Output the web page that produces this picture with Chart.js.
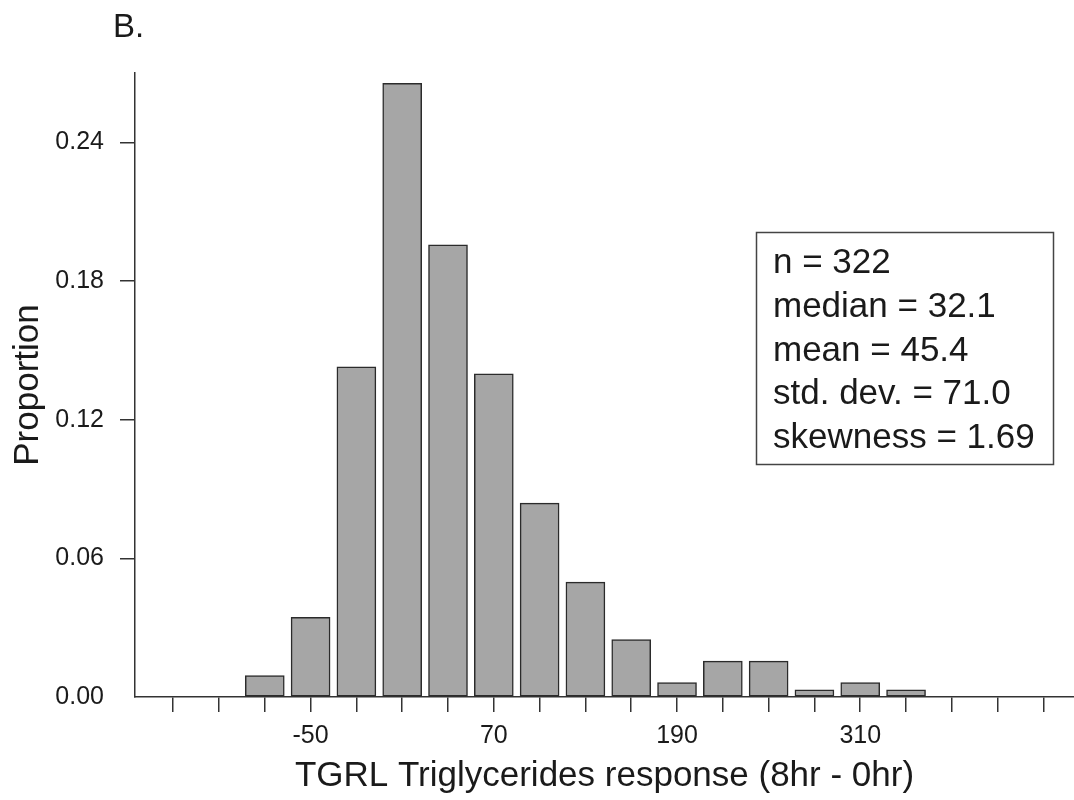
<!DOCTYPE html>
<html>
<head>
<meta charset="utf-8">
<script src="https://cdn.jsdelivr.net/npm/chart.js@4.4.0/dist/chart.umd.min.js"></script>
<style>
  html, body { margin: 0; padding: 0; background: #ffffff; }
  #c { display: block; }
</style>
</head>
<body>
<canvas id="c" width="1074" height="800"></canvas>
<script>
// ---- data ----
const binCenters = [-80, -50, -20, 10, 40, 70, 100, 130, 160, 190, 220, 250, 280, 310, 340];
const proportions = [0.0093, 0.0345, 0.1429, 0.2655, 0.1957, 0.1398, 0.0839, 0.0497, 0.0248, 0.0062, 0.0155, 0.0155, 0.0031, 0.0062, 0.0031];
const xTickValues = [-140, -110, -80, -50, -20, 10, 40, 70, 100, 130, 160, 190, 220, 250, 280, 310, 340, 370, 400, 430];
const xTickLabels = [-50, 70, 190, 310];
const yTickValues = [0, 0.06, 0.12, 0.18, 0.24];
const statsLines = ['n = 322', 'median = 32.1', 'mean = 45.4', 'std. dev. = 71.0', 'skewness = 1.69'];
const panelLabel = 'B.';
const xTitle = 'TGRL Triglycerides response (8hr - 0hr)';
const yTitle = 'Proportion';

const FONT = "'Liberation Sans', Arial, Helvetica, sans-serif";
const INK = '#1a1a1a';
const AXIS = '#333333';

const overlay = {
  id: 'overlay',
  afterDraw(chart) {
    const ctx = chart.ctx;
    ctx.save();
    // panel label
    ctx.fillStyle = INK;
    ctx.font = '33px ' + FONT;
    ctx.textAlign = 'left';
    ctx.textBaseline = 'alphabetic';
    ctx.fillText(panelLabel, 113, 37);
    // stats box
    ctx.strokeStyle = '#444';
    ctx.lineWidth = 1.5;
    ctx.strokeRect(756.5, 232.5, 297, 232);
    ctx.font = '35px ' + FONT;
    statsLines.forEach((t, i) => ctx.fillText(t, 773, 273 + i * 43.75));
    ctx.restore();
  }
};

new Chart(document.getElementById('c'), {
  type: 'bar',
  data: {
    datasets: [{
      data: binCenters.map((x, i) => ({ x: x, y: proportions[i] })),
      backgroundColor: '#a6a6a6',
      borderColor: '#2b2b2b',
      borderWidth: 1.5,
      borderSkipped: false,
      barThickness: 39
    }]
  },
  options: {
    responsive: false,
    animation: false,
    devicePixelRatio: 1,
    layout: { padding: { top: 73, left: 0, right: 0, bottom: 0 } },
    plugins: { legend: { display: false }, tooltip: { enabled: false }, title: { display: false } },
    scales: {
      x: {
        type: 'linear',
        offset: false,
        min: -165,
        max: 450,
        afterBuildTicks(scale) { scale.ticks = xTickValues.map(v => ({ value: v })); },
        afterFit(scale) { scale.height = 103; },
        ticks: {
          autoSkip: false,
          maxRotation: 0,
          padding: 9,
          color: INK,
          font: { family: FONT, size: 25 },
          callback: (v) => xTickLabels.includes(v) ? String(v) : ''
        },
        grid: { offset: false, drawOnChartArea: false, drawTicks: true, tickLength: 15, color: AXIS, lineWidth: 1.5 },
        border: { display: true, color: AXIS, width: 1.5 },
        title: {
          display: true, text: xTitle, color: INK,
          font: { family: FONT, size: 35 },
          padding: { top: 0, bottom: 3 }
        }
      },
      y: {
        type: 'linear',
        min: 0,
        max: 0.27,
        afterBuildTicks(scale) { scale.ticks = yTickValues.map(v => ({ value: v })); },
        afterFit(scale) { scale.width = 135; },
        ticks: {
          padding: 16,
          color: INK,
          font: { family: FONT, size: 25 },
          callback: (v) => Number(v).toFixed(2)
        },
        grid: {
          drawOnChartArea: false, drawTicks: true, tickLength: 15, lineWidth: 1.5,
          color: (c) => (c.tick && c.tick.value === 0) ? 'rgba(0,0,0,0)' : AXIS
        },
        border: { display: true, color: AXIS, width: 1.5 },
        title: {
          display: true, text: yTitle, color: INK,
          font: { family: FONT, size: 35 },
          padding: { top: 7, bottom: 0 }
        }
      }
    }
  },
  plugins: [overlay]
});
</script>
</body>
</html>
